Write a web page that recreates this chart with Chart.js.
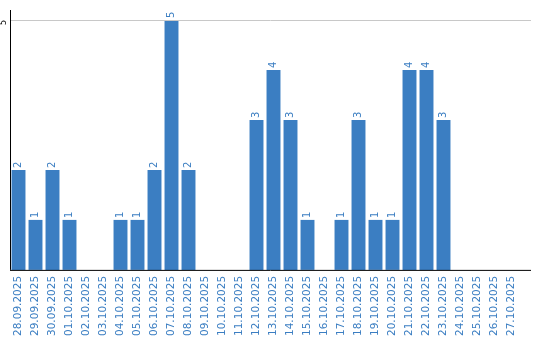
<!DOCTYPE html>
<html>
<head>
<meta charset="utf-8">
<script src="https://cdn.jsdelivr.net/npm/chart.js@4"></script>
<style>
  html, body { margin: 0; padding: 0; background: #fff; }
  #wrap { width: 540px; height: 340px; }
</style>
</head>
<body>
<div id="wrap"><canvas id="chart"></canvas></div>
<script>
const dates = [
  "28.09.2025", "29.09.2025", "30.09.2025", "01.10.2025", "02.10.2025",
  "03.10.2025", "04.10.2025", "05.10.2025", "06.10.2025", "07.10.2025",
  "08.10.2025", "09.10.2025", "10.10.2025", "11.10.2025", "12.10.2025",
  "13.10.2025", "14.10.2025", "15.10.2025", "16.10.2025", "17.10.2025",
  "18.10.2025", "19.10.2025", "20.10.2025", "21.10.2025", "22.10.2025",
  "23.10.2025", "24.10.2025", "25.10.2025", "26.10.2025", "27.10.2025"
];
const counts = [2, 1, 2, 1, 0, 0, 1, 1, 2, 5, 2, 0, 0, 0, 3, 4, 3, 1, 0, 1, 3, 1, 1, 4, 4, 3, 0, 0, 0, 0];
const yTicks = [5];

const blue = "#3b7ec2";

// value labels above bars, the lone "5" tick, and axis lines
const labelPlugin = {
  id: "labels",
  afterDraw(chart) {
    const c = chart.ctx;
    const meta = chart.getDatasetMeta(0);
    const y = chart.scales.y;
    const area = chart.chartArea;
    const ext = area.right + 11;
    c.save();

    c.lineWidth = 1;
    yTicks.forEach(v => {
      const py = Math.round(y.getPixelForValue(v)) + 0.5;
      c.strokeStyle = "#c8c8c8";
      c.beginPath();
      c.moveTo(area.left, py);
      c.lineTo(ext, py);
      c.stroke();
    });

    c.font = "10px 'DejaVu Sans'";
    c.fillStyle = blue;
    c.textAlign = "left";
    c.textBaseline = "middle";
    meta.data.forEach((bar, i) => {
      if (!counts[i]) return;
      c.save();
      c.translate(bar.x, bar.y - 2);
      c.rotate(-Math.PI / 2);
      c.fillText(String(counts[i]), 0, 0);
      c.restore();
    });

    c.fillStyle = "#000";
    c.font = "8px 'DejaVu Sans'";
    c.textAlign = "right";
    yTicks.forEach(v => {
      const py = y.getPixelForValue(v);
      c.save();
      c.translate(area.left - 6, py);
      c.rotate(-Math.PI / 2);
      c.fillText(String(v), 0, 0);
      c.restore();
    });

    c.strokeStyle = "#000";
    c.beginPath();
    c.moveTo(area.left + 0.5, area.top);
    c.lineTo(area.left + 0.5, area.bottom);
    c.moveTo(area.left, area.bottom + 0.5);
    c.lineTo(ext, area.bottom + 0.5);
    c.stroke();
    c.restore();
  }
};

new Chart(document.getElementById("chart"), {
  type: "bar",
  data: {
    labels: dates,
    datasets: [{
      data: counts,
      backgroundColor: blue,
      categoryPercentage: 1,
      barPercentage: 0.82
    }]
  },
  options: {
    responsive: true,
    maintainAspectRatio: false,
    animation: false,
    layout: { padding: { left: 10, top: 10, right: 20, bottom: -2 } },
    plugins: { legend: { display: false }, tooltip: { enabled: false } },
    scales: {
      x: {
        grid: { display: false, drawTicks: false },
        border: { display: false },
        ticks: {
          color: blue,
          font: { family: "'DejaVu Sans'", size: 10.5 },
          minRotation: 90,
          maxRotation: 90,
          autoSkip: false,
          padding: 6
        }
      },
      y: {
        min: 0,
        max: 5.2,
        afterBuildTicks: scale => { scale.ticks = yTicks.map(v => ({ value: v })); },
        grid: { display: false, drawTicks: false },
        border: { display: false },
        ticks: { display: false }
      }
    }
  },
  plugins: [labelPlugin]
});
</script>
</body>
</html>
